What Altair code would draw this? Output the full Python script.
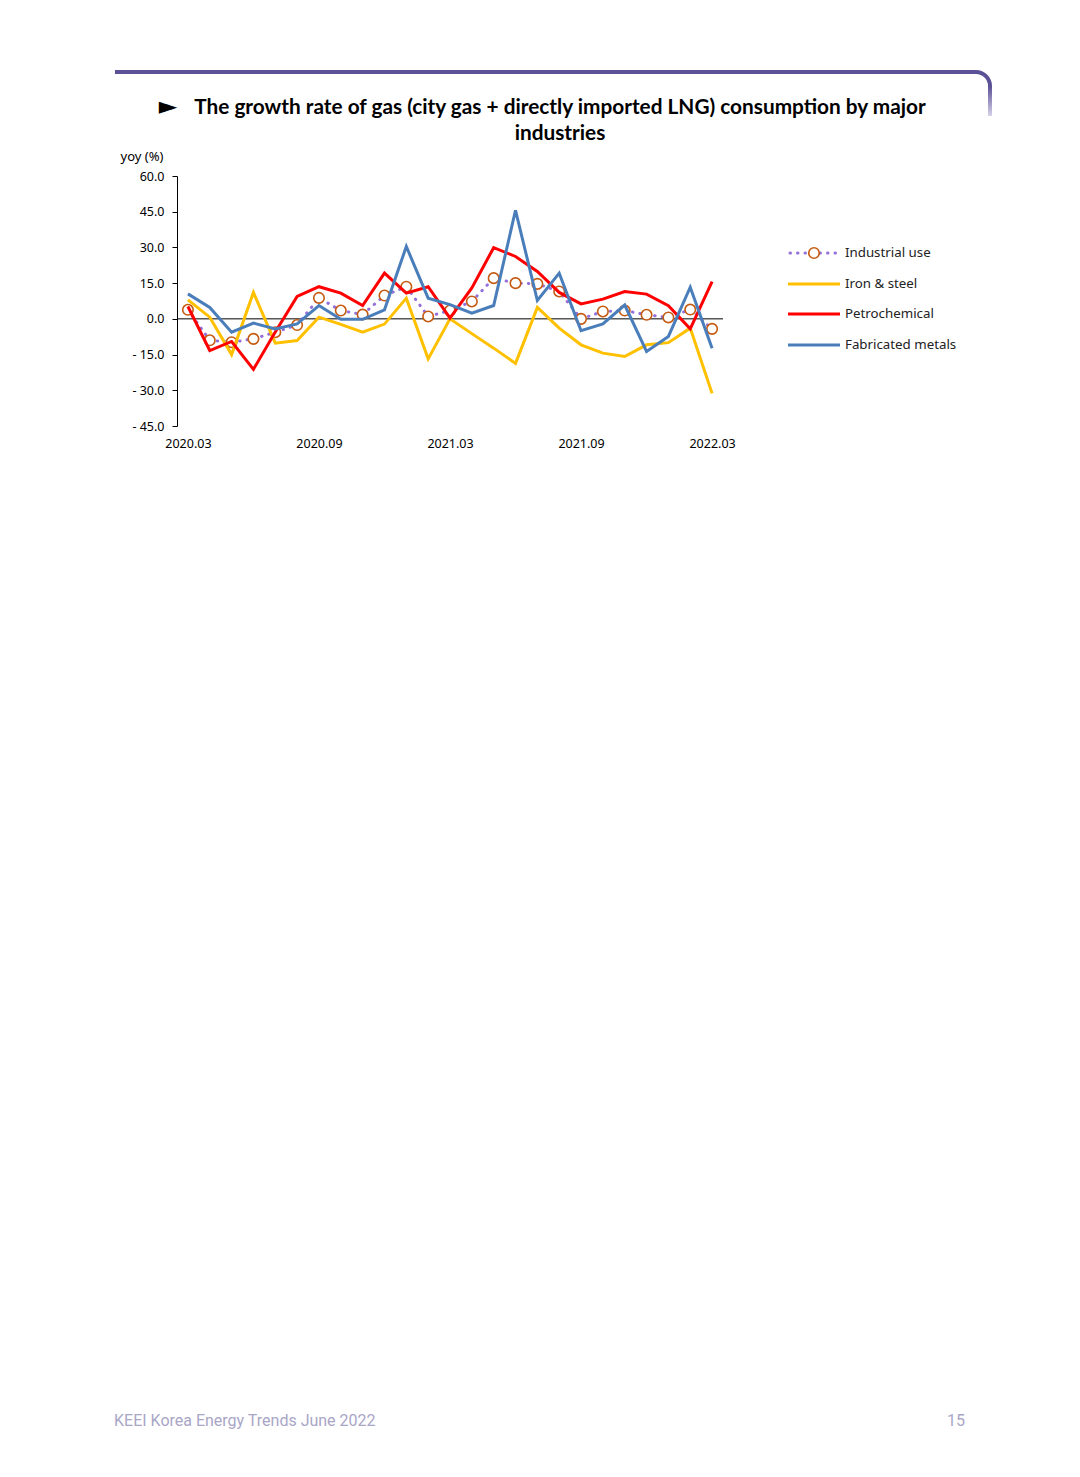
import math
import altair as alt
import pandas as pd

months = ['2020.03', '2020.04', '2020.05', '2020.06', '2020.07', '2020.08',
          '2020.09', '2020.10', '2020.11', '2020.12', '2021.01', '2021.02',
          '2021.03', '2021.04', '2021.05', '2021.06', '2021.07', '2021.08',
          '2021.09', '2021.10', '2021.11', '2021.12', '2022.01', '2022.02',
          '2022.03']
industrial_use = [3.8, -9.0, -9.8, -8.4, -5.6, -2.6, 8.8, 3.5, 1.8, 9.8, 13.5, 1.0,
                  3.5, 7.3, 17.1, 15.0, 14.7, 11.5, 0.0, 3.1, 3.5, 1.7, 0.6, 3.9, -4.2]
iron_steel = [8.0, 0.7, -15.0, 11.1, -10.2, -9.1, 0.7, -2.3, -5.6, -2.2, 8.7, -16.8,
              0.0, -6.2, -12.3, -18.7, 4.8, -3.9, -10.9, -14.4, -15.8, -10.9, -10.0, -3.9, -31.3]
petrochemical = [5.2, -13.3, -9.5, -21.2, -5.5, 9.4, 13.5, 10.8, 5.6, 19.2, 10.8, 13.5,
                 0.3, 13.0, 29.9, 26.2, 19.9, 11.1, 6.3, 8.3, 11.5, 10.4, 5.5, -4.2, 15.6]
fabricated_metals = [10.5, 4.8, -5.6, -1.8, -4.2, -2.1, 5.6, -0.2, -0.2, 3.8, 30.4, 8.7,
                     6.0, 2.4, 5.6, 45.6, 7.7, 19.2, -5.0, -2.1, 5.8, -13.7, -7.4, 13.3, -12.3]
series_names = ['Industrial use', 'Iron & steel', 'Petrochemical', 'Fabricated metals']
x_ticks = ['2020.03', '2020.09', '2021.03', '2021.09', '2022.03']
y_ticks = [-45, -30, -15, 0, 15, 30, 45, 60]

df = pd.DataFrame({'month': months,
                   'ind': industrial_use,
                   'iron': iron_steel,
                   'petro': petrochemical,
                   'fab': fabricated_metals})
long = df.melt('month', var_name='series', value_name='value')

W, H = 546, 250
OX, OY = 177, 176  # page position of the plot origin
FONT = 'Noto Sans'

x_enc = alt.X('month:O', sort=None,
              scale=alt.Scale(type='point', padding=0.5),
              axis=alt.Axis(values=x_ticks, labelAngle=0, domain=False, ticks=False,
                            tickSize=0, labelPadding=11, title=None, labelFontSize=12.5,
                            labelColor='#000', labelFont=FONT, labelOverlap=False))
y_scale = alt.Scale(domain=[-45, 60], nice=False, zero=False)
y_axis = alt.Axis(values=y_ticks, grid=False, domainColor='#000', tickColor='#000',
                  tickSize=5, labelPadding=8, labelFontSize=12.5, labelColor='#000',
                  labelFont=FONT, labelOverlap=False, labelFlush=False,
                  labelExpr="datum.value < 0 ? '- ' + format(-datum.value, '.1f') : format(datum.value, '.1f')",
                  title='yoy (%)', titleAngle=0, titleAlign='left', titleBaseline='middle',
                  titleX=120 - OX, titleY=156 - OY, titleFontSize=13,
                  titleFontWeight='normal', titleColor='#000', titleFont=FONT)
y_enc = alt.Y('value:Q', scale=y_scale, axis=y_axis)

base = alt.Chart(long).encode(x=x_enc, y=y_enc)

zero_line = alt.Chart(pd.DataFrame({'zero': [0]})).mark_rule(color='#000', strokeWidth=1).encode(
    y=alt.Y('zero:Q', scale=y_scale, axis=y_axis))

ind_line = base.transform_filter("datum.series == 'ind'").mark_line(
    color='#9370DB', strokeWidth=3, strokeDash=[0.5, 7], strokeCap='round')
ind_pts = base.transform_filter("datum.series == 'ind'").mark_point(
    shape='circle', size=110, fill='white', fillOpacity=1, stroke='#C55A11',
    strokeWidth=1.6, opacity=1)
iron_line = base.transform_filter("datum.series == 'iron'").mark_line(
    color='#FFC000', strokeWidth=3)
petro_line = base.transform_filter("datum.series == 'petro'").mark_line(
    color='#FF0000', strokeWidth=3)
fab_line = base.transform_filter("datum.series == 'fab'").mark_line(
    color='#4A7EBB', strokeWidth=3)

one = pd.DataFrame({'a': [0]})


def text_at(txt, x, y, **kw):
    return alt.Chart(one).mark_text(text=txt, baseline='middle', **kw).encode(
        x=alt.value(x - OX), y=alt.value(y - OY))


# legend
legend_layers = []
legend_ys = [253, 284, 314, 345]
legend_colors = ['#9370DB', '#FFC000', '#FF0000', '#4A7EBB']
for name, ly, col in zip(series_names, legend_ys, legend_colors):
    if name == 'Industrial use':
        sym = alt.Chart(one).mark_rule(color=col, strokeWidth=3, strokeDash=[0.5, 7],
                                       strokeCap='round').encode(
            x=alt.value(790 - OX), x2=alt.value(840 - OX), y=alt.value(ly - OY))
        circ = alt.Chart(one).mark_point(shape='circle', size=110, fill='white', fillOpacity=1,
                                         stroke='#C55A11', strokeWidth=1.6, opacity=1).encode(
            x=alt.value(814 - OX), y=alt.value(ly - OY))
        legend_layers += [sym, circ]
    else:
        sym = alt.Chart(one).mark_rule(color=col, strokeWidth=3).encode(
            x=alt.value(788 - OX), x2=alt.value(840 - OX), y=alt.value(ly - OY))
        legend_layers.append(sym)
    legend_layers.append(text_at(name, 845, ly, align='left', fontSize=13.3, font=FONT, color='#222'))

# header decoration
purple = '#5B5196'
top_bar = alt.Chart(one).mark_rect(color=purple).encode(
    x=alt.value(115 - OX), x2=alt.value(976 - OX), y=alt.value(70 - OY), y2=alt.value(74 - OY))
corner = alt.Chart(one).mark_arc(theta=0, theta2=math.pi / 2, radius=16, radius2=12,
                                 color=purple).encode(
    x=alt.value(976 - OX), y=alt.value(86 - OY))
side_bar = alt.Chart(one).mark_rect(
    color=alt.Gradient(gradient='linear', x1=0, y1=0, x2=0, y2=1,
                       stops=[alt.GradientStop(color=purple, offset=0),
                              alt.GradientStop(color='#D6D2EA', offset=1)])).encode(
    x=alt.value(988 - OX), x2=alt.value(992 - OX), y=alt.value(86 - OY), y2=alt.value(116 - OY))

title_font = 'Lato'
arrow = text_at('►', 168, 107, align='center', fontSize=24, font='DejaVu Sans', color='#000')
title1 = text_at('The growth rate of gas (city gas + directly imported LNG) consumption by major',
                 560, 108, align='center', fontSize=20.8, font=title_font, fontWeight='bold', color='#000')
title2 = text_at('industries', 560, 134, align='center', fontSize=20.8, font=title_font,
                 fontWeight='bold', color='#000')

footer = text_at('KEEI Korea Energy Trends June 2022', 114, 1421, align='left', fontSize=16,
                 font='Roboto', color='#A9A6C6')
page_no = text_at('15', 965, 1421, align='right', fontSize=16, font='Roboto', color='#A9A6C6')

chart = alt.layer(
    zero_line, ind_line, ind_pts, iron_line, petro_line, fab_line,
    top_bar, corner, side_bar, arrow, title1, title2, footer, page_no,
    *legend_layers
).properties(
    width=W, height=H,
    autosize=alt.AutoSizeParams(type='none'),
    padding={'left': 169, 'top': 168, 'right': 349, 'bottom': 1043},
).configure_view(strokeOpacity=0)

chart.save('out.html', embed_options={'renderer': 'svg', 'actions': False})
